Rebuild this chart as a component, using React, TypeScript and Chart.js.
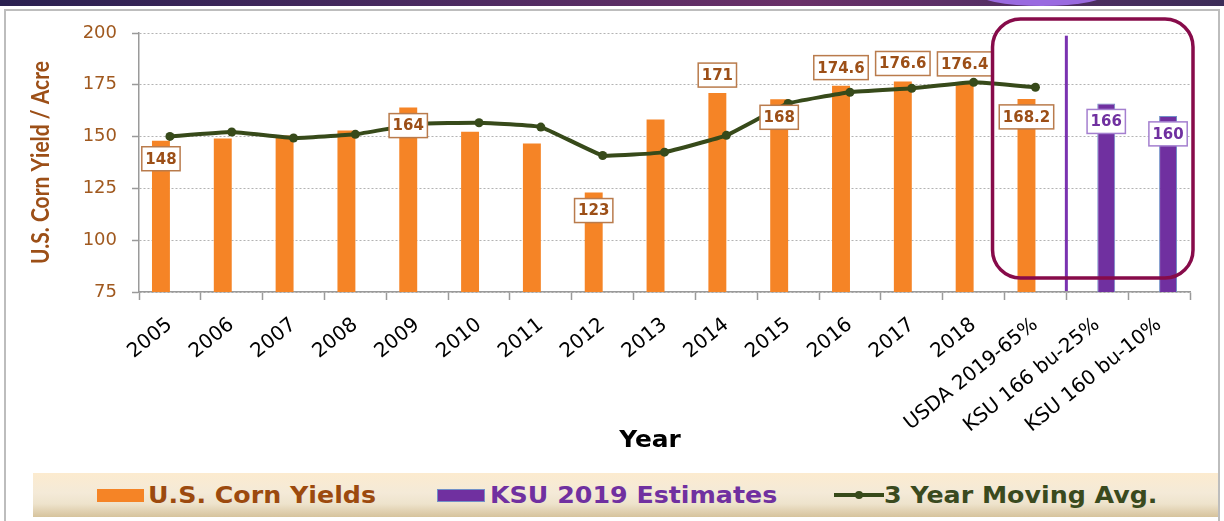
import React, { useEffect, useRef } from 'react';
import { Chart, registerables } from 'chart.js';

Chart.register(...registerables);

// ---------- data ----------
const categories = [
  '2005', '2006', '2007', '2008', '2009', '2010', '2011', '2012', '2013', '2014',
  '2015', '2016', '2017', '2018', 'USDA 2019-65%', 'KSU 166 bu-25%', 'KSU 160 bu-10%',
];
const usCornYields = [148, 149.1, 150.5, 153, 164, 152.4, 146.7, 123, 158.2, 171, 168, 174.6, 176.6, 176.4, 168.2, null, null];
const ksuEstimates = [null, null, null, null, null, null, null, null, null, null, null, null, null, null, null, 166, 160];
const movingAvg3yr = [150.1, 152.2, 149.3, 151.1, 156.1, 156.7, 154.6, 140.9, 142.5, 150.6, 166.0, 171.4, 173.3, 176.2, 173.8, null, null];
// which bars carry a boxed value label, and whether it sits inside ('in') or above ('out') the bar top
const usLabelPlacement = ['in', null, null, null, 'in', null, null, 'in', null, 'out', 'in', 'out', 'out', 'out', 'in', null, null];
const ksuLabelPlacement = [null, null, null, null, null, null, null, null, null, null, null, null, null, null, null, 'in', 'in'];
const yMin = 75;
const yMax = 200;
const yStep = 25;
const yTitle = 'U.S. Corn Yield / Acre';
const xTitle = 'Year';
const legendItems = ['U.S. Corn Yields', 'KSU 2019 Estimates', '3 Year Moving Avg.'];

// ---------- styles ----------
const ORANGE = '#F58426';
const PURPLE = '#7030A0';
const GREEN = '#374A1A';
const BROWN = '#9C4F17';

const boxLabelPlugin = {
  id: 'boxLabels',
  afterDatasetsDraw(chart: any) {
    const ctx = chart.ctx;
    const specs = [
      { ds: 0, place: usLabelPlacement, text: '#9C4F17', border: '#B97B4C' },
      { ds: 1, place: ksuLabelPlacement, text: '#7030A0', border: '#A47FCF' },
    ];
    ctx.save();
    ctx.font = 'bold 15px "DejaVu Sans"';
    ctx.textAlign = 'center';
    ctx.textBaseline = 'middle';
    for (const s of specs) {
      const meta = chart.getDatasetMeta(s.ds);
      const vals = chart.data.datasets[s.ds].data;
      meta.data.forEach((el: any, i: number) => {
        const p = s.place[i];
        const v = vals[i];
        if (!p || v == null) return;
        const txt = String(v);
        const w = ctx.measureText(txt).width + 7;
        const h = 24;
        const cx = el.x;
        const cy = el.y + (p === 'in' ? 18 : -18);
        ctx.fillStyle = '#ffffff';
        ctx.fillRect(cx - w / 2, cy - h / 2, w, h);
        ctx.strokeStyle = s.border;
        ctx.lineWidth = 1.5;
        ctx.strokeRect(cx - w / 2, cy - h / 2, w, h);
        ctx.fillStyle = s.text;
        ctx.fillText(txt, cx, cy + 1);
      });
    }
    ctx.restore();
  },
};

const overlayPlugin = {
  id: 'overlayMarks',
  afterDatasetsDraw(chart: any) {
    const ctx = chart.ctx;
    const xs = chart.scales.x;
    const ys = chart.scales.y;
    const area = chart.chartArea;
    // separator between USDA and KSU estimates
    const sepX = (xs.getPixelForValue(14) + xs.getPixelForValue(15)) / 2;
    ctx.save();
    ctx.strokeStyle = '#7A32B0';
    ctx.lineWidth = 3;
    ctx.beginPath();
    ctx.moveTo(sepX, ys.getPixelForValue(198.7));
    ctx.lineTo(sepX, area.bottom - 1);
    ctx.stroke();
    // rounded highlight frame around the 2019 estimates
    const left = (xs.getPixelForValue(13) + xs.getPixelForValue(14)) / 2 - 12;
    const right = area.right + 3;
    const top = area.top - 14;
    const bottom = area.bottom - 14;
    ctx.strokeStyle = '#870B4A';
    ctx.lineWidth = 3.5;
    ctx.beginPath();
    (ctx as any).roundRect(left, top, right - left, bottom - top, 28);
    ctx.stroke();
    ctx.restore();
  },
};

// axis titles, drawn slightly stretched like the original (Calibri, widened)
const axisTitlePlugin = {
  id: 'axisTitles',
  afterDraw(chart: any) {
    const ctx = chart.ctx;
    const area = chart.chartArea;
    ctx.save();
    // y title
    ctx.translate(41, (area.top + area.bottom) / 2);
    ctx.rotate(-Math.PI / 2);
    ctx.scale(1, 1.18);
    ctx.font = 'bold 21px Lato';
    ctx.fillStyle = BROWN;
    ctx.textAlign = 'center';
    ctx.textBaseline = 'middle';
    ctx.fillText(yTitle, 0, 0);
    ctx.restore();
    // x title
    ctx.save();
    ctx.translate(650, 441);
    ctx.scale(1.08, 1);
    ctx.font = 'bold 23px "DejaVu Sans"';
    ctx.fillStyle = '#000000';
    ctx.textAlign = 'center';
    ctx.textBaseline = 'middle';
    ctx.fillText(xTitle, 0, 0);
    ctx.restore();
  },
};

export default function App() {
  const canvasRef = useRef<HTMLCanvasElement | null>(null);

  useEffect(() => {
    if (!canvasRef.current) return;
    const chart = new Chart(canvasRef.current, {
      type: 'bar',
      data: {
        labels: categories,
        datasets: [
          {
            type: 'bar',
            label: legendItems[0],
            data: usCornYields,
            backgroundColor: ORANGE,
            borderWidth: 0,
            categoryPercentage: 0.58,
            barPercentage: 1.0,
            order: 2,
          } as any,
          {
            type: 'bar',
            label: legendItems[1],
            data: ksuEstimates,
            backgroundColor: PURPLE,
            borderColor: '#7290C8',
            borderWidth: 1,
            categoryPercentage: 0.58,
            barPercentage: 1.0,
            order: 2,
          } as any,
          {
            type: 'line',
            label: legendItems[2],
            data: movingAvg3yr,
            borderColor: GREEN,
            backgroundColor: GREEN,
            borderWidth: 4,
            pointRadius: 4.5,
            pointBorderWidth: 0,
            pointBackgroundColor: GREEN,
            tension: 0.1,
            spanGaps: false,
            order: 1,
          } as any,
        ],
      },
      options: {
        responsive: false,
        animation: false,
        devicePixelRatio: 1,
        layout: { padding: { left: 0, right: 34, top: 33, bottom: 0 } },
        plugins: {
          legend: { display: false },
          tooltip: { enabled: false },
        },
        scales: {
          x: {
            offset: true,
            grid: {
              drawOnChartArea: false,
              drawTicks: true,
              tickLength: 8,
              tickColor: '#9a9a9a',
              tickWidth: 1.5,
              offset: true,
            },
            border: { display: true, color: '#9a9a9a', width: 1.5 },
            ticks: {
              color: '#000000',
              font: { family: '"DejaVu Sans"', size: 20 },
              maxRotation: 39,
              minRotation: 39,
              autoSkip: false,
              padding: 13,
            },
            title: { display: false, text: xTitle },
            afterFit(scale: any) {
              scale.height = 180;
            },
          },
          y: {
            min: yMin,
            max: yMax,
            grid: {
              color: '#b3b3b3',
              lineWidth: 1,
              tickColor: '#9a9a9a',
              tickLength: 7,
              tickWidth: 1.5,
              tickBorderDash: [],
            },
            border: { display: true, color: '#9a9a9a', width: 1.5, dash: [2, 2] },
            ticks: {
              stepSize: yStep,
              color: '#A0591F',
              font: { family: '"DejaVu Sans"', size: 18 },
              padding: 15,
            },
            title: { display: false, text: yTitle },
            afterFit(scale: any) {
              scale.width = 139;
            },
          },
        },
      },
      plugins: [boxLabelPlugin, overlayPlugin, axisTitlePlugin],
    });
    return () => chart.destroy();
  }, []);

  const legendText = {
    position: 'absolute' as const,
    top: 482,
    fontFamily: '"DejaVu Sans"',
    fontWeight: 700,
    fontSize: 23,
    lineHeight: '26px',
    whiteSpace: 'nowrap' as const,
    transform: 'scaleX(1.1)',
    transformOrigin: 'left center',
  };

  return (
    <div style={{ position: 'absolute', left: 0, top: 0, width: 1224, height: 521, overflow: 'hidden', background: '#ffffff' }}>
      {/* top decorative band */}
      <div style={{ position: 'absolute', left: 0, top: 0, width: 1224, height: 6, background: 'linear-gradient(90deg, #2a2050 0%, #4a2a60 35%, #6a3068 65%, #5a2f66 78%, #3c2c58 100%)' }} />
      <div style={{ position: 'absolute', left: 975, top: -22, width: 134, height: 28, borderRadius: '50%', background: '#9a6ae0' }} />
      {/* chart frame */}
      <div style={{ position: 'absolute', left: 4, top: 9, width: 1212, height: 530, border: '2px solid #bdbdbd' }} />
      <canvas ref={canvasRef} width={1224} height={472} style={{ position: 'absolute', left: 0, top: 0, width: 1224, height: 472 }} />
      {/* legend band */}
      <div style={{ position: 'absolute', left: 33, top: 473, width: 1185, height: 44, background: 'linear-gradient(180deg, #fcebcf 0%, #f4ead8 45%, #eee3cc 70%, #d6c39c 100%)' }} />
      <div style={{ position: 'absolute', left: 97, top: 489, width: 47, height: 13, background: ORANGE }} />
      <div style={{ ...legendText, left: 148, color: '#9C4A0E' }}>{legendItems[0]}</div>
      <div style={{ position: 'absolute', left: 437, top: 489, width: 48, height: 13, background: PURPLE, boxShadow: 'inset 0 0 0 1px #7290C8' }} />
      <div style={{ ...legendText, left: 490, color: PURPLE }}>{legendItems[1]}</div>
      <div style={{ position: 'absolute', left: 834, top: 493, width: 50, height: 4, background: GREEN }} />
      <div style={{ position: 'absolute', left: 855, top: 491, width: 8, height: 8, borderRadius: '50%', background: GREEN }} />
      <div style={{ ...legendText, left: 884, color: '#3A4A1E' }}>{legendItems[2]}</div>
    </div>
  );
}
